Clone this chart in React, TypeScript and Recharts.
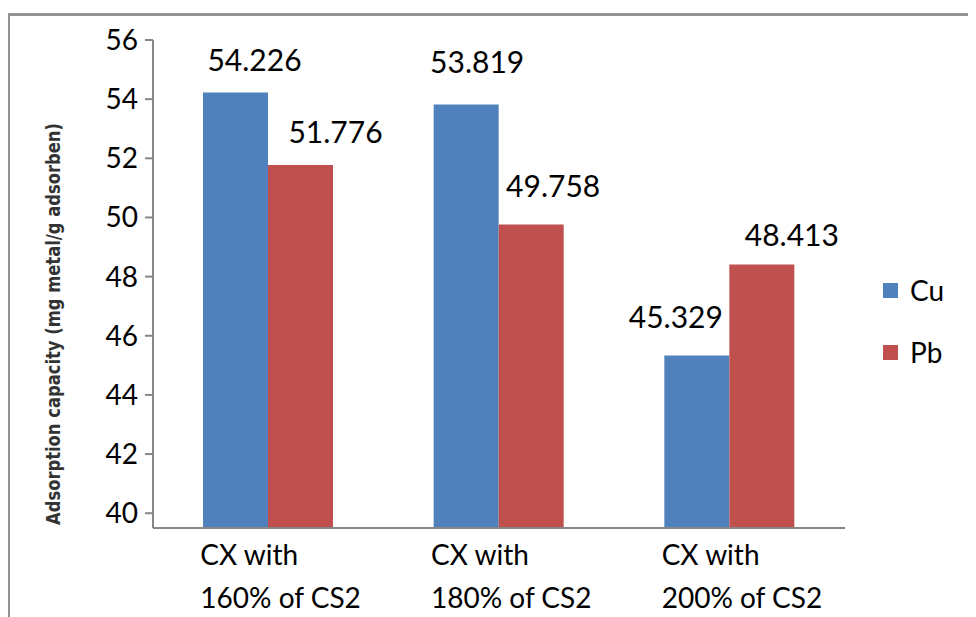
import React from 'react';
import { BarChart, Bar, XAxis, YAxis, Legend, LabelList, Label } from 'recharts';

const catTop = ['CX with', 'CX with', 'CX with'];
const catBottom = ['160% of CS2', '180% of CS2', '200% of CS2'];
const cuValues = [54.226, 53.819, 45.329];
const pbValues = [51.776, 49.758, 48.413];
const yTicks = [40, 42, 44, 46, 48, 50, 52, 54, 56];

// label nudges (px, relative to the bar top-centre) - the source had hand-moved labels
const cuNudge = [[19, 32], [11, 42], [-21, 38]];
const pbNudge = [[35, 33], [22, 38], [30, 29]];

const FONT = 'Lato, "Open Sans", sans-serif';
const BLUE = '#4f81bd';
const RED = '#c0504d';

const data = catTop.map((t, i) => ({
    name: t + '\n' + catBottom[i],
    Cu: cuValues[i],
    Pb: pbValues[i],
}));

function CategoryTick(props: any) {
    const { x, y, payload } = props;
    const [l1, l2] = String(payload.value).split('\n');
    return (
        <g>
            <text x={x - 68} y={y + 37} fontFamily={FONT} fontSize={28} fill="#000" textAnchor="start">
                {l1}
            </text>
            <text x={x - 68} y={y + 80} fontFamily={FONT} fontSize={28} fill="#000" textAnchor="start">
                {l2}
            </text>
        </g>
    );
}

function makeValueLabel(nudge: number[][]) {
    return (props: any) => {
        const { x, y, width, value, index } = props;
        const [dx, dy] = nudge[index] || [0, 30];
        return (
            <text
                x={x + width / 2 + dx}
                y={y - dy}
                dy="0.36em"
                textAnchor="middle"
                fontFamily={FONT}
                fontSize={30}
                fill="#000"
            >
                {value}
            </text>
        );
    };
}

function LegendBox(props: any) {
    const { payload } = props;
    return (
        <div>
            {(payload || []).map((p: any) => (
                <div key={p.value} style={{ display: 'flex', alignItems: 'center', height: 62 }}>
                    <span style={{ width: 15, height: 15, background: p.color, display: 'inline-block', marginRight: 12 }} />
                    <span style={{ fontFamily: FONT, fontSize: 28, color: '#000' }}>{p.value}</span>
                </div>
            ))}
        </div>
    );
}

export default function App() {
    return (
        <div style={{ position: 'relative', width: 976, height: 617, margin: '-8px 0 0 -8px', background: '#fff', overflow: 'hidden' }}>
            <div
                style={{
                    position: 'absolute',
                    left: 7,
                    top: 13,
                    width: 990,
                    height: 620,
                    borderTop: '3px solid #929292',
                    borderLeft: '3px solid #929292',
                }}
            />
            <BarChart
                width={976}
                height={617}
                data={data}
                margin={{ top: 40, right: 131, left: 93, bottom: 0 }}
                barCategoryGap={50}
                barGap={0}
                baseValue={40}
                style={{ position: 'absolute', left: 0, top: 0 }}
            >
                <XAxis
                    dataKey="name"
                    height={89}
                    tickLine={false}
                    tickSize={0}
                    tickMargin={0}
                    axisLine={{ stroke: '#868686', strokeWidth: 2 }}
                    tick={CategoryTick}
                    interval={0}
                />
                <YAxis
                    width={60}
                    type="number"
                    domain={[39.5, 56]}
                    ticks={yTicks}
                    allowDataOverflow
                    tickSize={8}
                    tickMargin={7}
                    axisLine={{ stroke: '#868686', strokeWidth: 2 }}
                    tickLine={{ stroke: '#868686', strokeWidth: 2 }}
                    tick={{ fontFamily: FONT, fontSize: 28, fill: '#000' }}
                >
                    <Label
                        content={() => (
                            <text
                                transform="translate(60, 324) rotate(-90)"
                                textAnchor="middle"
                                fontFamily='"DejaVu Sans Condensed", "DejaVu Sans", sans-serif'
                                fontWeight="bold"
                                fontSize={19}
                                fill="#333"
                                textLength={402}
                                lengthAdjust="spacingAndGlyphs"
                            >
                                Adsorption capacity (mg metal/g adsorben)
                            </text>
                        )}
                    />
                </YAxis>
                <Legend
                    layout="vertical"
                    align="center"
                    verticalAlign="middle"
                    content={LegendBox}
                    wrapperStyle={{ left: 883, top: 259, width: 90 }}
                />
                <Bar dataKey="Cu" fill={BLUE} isAnimationActive={false}>
                    <LabelList dataKey="Cu" content={makeValueLabel(cuNudge)} />
                </Bar>
                <Bar dataKey="Pb" fill={RED} isAnimationActive={false}>
                    <LabelList dataKey="Pb" content={makeValueLabel(pbNudge)} />
                </Bar>
            </BarChart>
        </div>
    );
}
